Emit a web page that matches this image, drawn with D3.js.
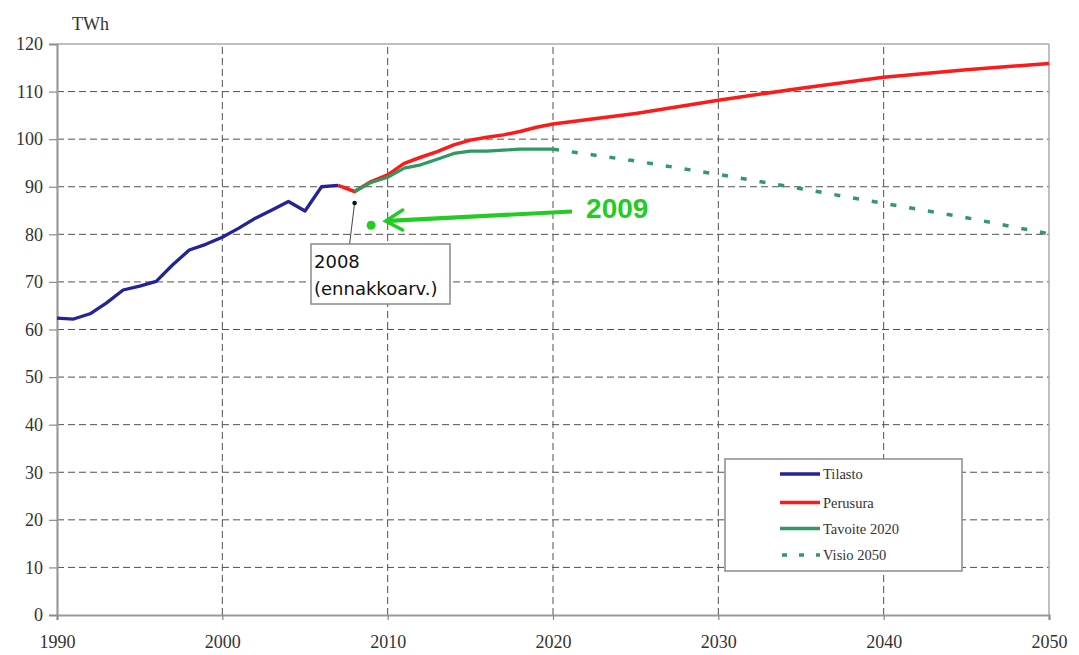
<!DOCTYPE html>
<html>
<head>
<meta charset="utf-8">
<script src="https://cdn.jsdelivr.net/npm/d3@7"></script>
<style>
  html, body { margin: 0; padding: 0; background: #fff; }
  svg { display: block; }
</style>
</head>
<body>
<svg id="chart" width="1079" height="655"></svg>
<script>
// ---- Data ----
const yTicks = [0, 10, 20, 30, 40, 50, 60, 70, 80, 90, 100, 110, 120];
const xTicks = [1990, 2000, 2010, 2020, 2030, 2040, 2050];

const tilastoYears  = [1990,1991,1992,1993,1994,1995,1996,1997,1998,1999,2000,2001,2002,2003,2004,2005,2006,2007];
const tilastoValues = [62.4,62.2,63.3,65.6,68.3,69.1,70.1,73.6,76.7,77.9,79.4,81.3,83.4,85.1,86.9,84.9,90.0,90.3];

const perusuraYears  = [2007,2008,2009,2010,2011,2012,2013,2014,2015,2016,2017,2018,2019,2020,2025,2030,2035,2040,2045,2050];
const perusuraValues = [90.3,89.0,91.1,92.5,94.9,96.2,97.4,98.8,99.8,100.4,100.9,101.6,102.5,103.2,105.4,108.2,110.7,113.0,114.6,115.9];

const tavoiteYears  = [2008,2009,2010,2011,2012,2013,2014,2015,2016,2017,2018,2019,2020];
const tavoiteValues = [89.0,90.9,92.0,93.9,94.6,95.8,97.0,97.5,97.5,97.7,97.9,97.9,97.9];

const visioYears  = [2020,2025,2030,2035,2040,2045,2050];
const visioValues = [97.9,95.4,92.6,89.6,86.5,83.5,80.1];

const point2009 = { year: 2009, value: 81.9 };
const seriesNames = ["Tilasto", "Perusura", "Tavoite 2020", "Visio 2050"];

// ---- Layout ----
const svg = d3.select("#chart");
const x = d3.scaleLinear().domain([1990, 2050]).range([57, 1049]);
const y = d3.scaleLinear().domain([0, 120]).range([615, 44]);

const serif = "'Liberation Serif', 'Times New Roman', serif";

// Grid lines (dashed)
const grid = svg.append("g");
grid.selectAll("line.h").data(yTicks.filter(v => v > 0 && v < 120)).enter().append("line")
  .attr("x1", x(1990)).attr("x2", x(2050))
  .attr("y1", d => y(d)).attr("y2", d => y(d))
  .attr("stroke", "#505050").attr("stroke-width", 1).attr("stroke-dasharray", "7,4");
grid.selectAll("line.v").data(xTicks.filter(v => v > 1990 && v < 2050)).enter().append("line")
  .attr("x1", d => x(d)).attr("x2", d => x(d))
  .attr("y1", y(0)).attr("y2", y(120))
  .attr("stroke", "#505050").attr("stroke-width", 1).attr("stroke-dasharray", "7,4");

// Top and right border
svg.append("line").attr("x1", x(1990)).attr("x2", x(2050)).attr("y1", y(120)).attr("y2", y(120))
  .attr("stroke", "#aaaaaa").attr("stroke-width", 1.5);
svg.append("line").attr("x1", x(2050)).attr("x2", x(2050)).attr("y1", y(0)).attr("y2", y(120))
  .attr("stroke", "#aaaaaa").attr("stroke-width", 1.5);

// Axes
const yAxis = d3.axisLeft(y).tickValues(yTicks).tickSize(8).tickPadding(6).tickFormat(d3.format("d"));
const xAxis = d3.axisBottom(x).tickValues(xTicks).tickSize(5).tickPadding(15).tickFormat(d3.format("d"));

const gy = svg.append("g").attr("transform", `translate(${x(1990)},0)`).call(yAxis);
const gx = svg.append("g").attr("transform", `translate(0,${y(0)})`).call(xAxis);
[gx, gy].forEach(g => {
  g.select(".domain").attr("stroke", "#9a9a9a").attr("stroke-width", 2.2);
  g.selectAll(".tick line").attr("stroke", "#8a8a8a").attr("stroke-width", 1.2);
  g.selectAll(".tick text").attr("fill", "#333").style("font-family", serif).style("font-size", "18px");
});

// Unit label
svg.append("text").attr("x", 72).attr("y", 30).text("TWh")
  .style("font-family", serif).style("font-size", "18px").attr("fill", "#333");

// Lines
const line = d3.line().x(d => x(d[0])).y(d => y(d[1]));
const zip = (a, b) => a.map((v, i) => [v, b[i]]);

svg.append("path").datum(zip(visioYears, visioValues)).attr("d", line)
  .attr("fill", "none").attr("stroke", "#339966").attr("stroke-width", 3.5)
  .attr("stroke-dasharray", "6,13");
svg.append("path").datum(zip(perusuraYears, perusuraValues)).attr("d", line)
  .attr("fill", "none").attr("stroke", "#ff1a1a").attr("stroke-width", 3.5).attr("stroke-linejoin", "round");
svg.append("path").datum(zip(tavoiteYears, tavoiteValues)).attr("d", line)
  .attr("fill", "none").attr("stroke", "#2e9960").attr("stroke-width", 3.2).attr("stroke-linejoin", "round");
svg.append("path").datum(zip(tilastoYears, tilastoValues)).attr("d", line)
  .attr("fill", "none").attr("stroke", "#23239a").attr("stroke-width", 3.3).attr("stroke-linejoin", "round");

// 2009 point, arrow and label
const bright = "#22cc22";
svg.append("circle").attr("cx", x(point2009.year)).attr("cy", y(point2009.value)).attr("r", 4.5).attr("fill", bright);
const tip = [x(2009.88), y(82.8)];
const tail = [x(2021.15), y(84.8)];
svg.append("line").attr("x1", tail[0]).attr("y1", tail[1]).attr("x2", tip[0] + 3).attr("y2", tip[1] - 0.2)
  .attr("stroke", bright).attr("stroke-width", 4.2);
svg.append("path")
  .attr("d", `M${tip[0] + 17},${tip[1] - 11} L${tip[0]},${tip[1]} L${tip[0] + 17},${tip[1] + 9}`)
  .attr("fill", "none").attr("stroke", bright).attr("stroke-width", 3.5).attr("stroke-linecap", "round");
svg.append("text").attr("x", x(2022)).attr("y", y(83.5)).text("2009")
  .style("font-family", "'Liberation Sans', Arial, sans-serif").style("font-weight", "bold")
  .style("font-size", "28px").attr("fill", bright);

// 2008 annotation
const dotX = x(2008), dotY = y(86.6);
svg.append("line").attr("x1", dotX).attr("y1", dotY).attr("x2", dotX - 5).attr("y2", 244)
  .attr("stroke", "#444").attr("stroke-width", 1);
svg.append("circle").attr("cx", dotX).attr("cy", dotY).attr("r", 2.3).attr("fill", "#111");
svg.append("rect").attr("x", 311).attr("y", 244).attr("width", 139).attr("height", 60)
  .attr("fill", "#fff").attr("stroke", "#8a8a8a").attr("stroke-width", 1.5);
const annot = svg.append("text").style("font-family", "'DejaVu Sans', Verdana, sans-serif")
  .style("font-size", "18px").attr("fill", "#111");
annot.append("tspan").attr("x", 314).attr("y", 268).text("2008");
annot.append("tspan").attr("x", 314).attr("y", 295).text("(ennakkoarv.)");

// Legend
svg.append("rect").attr("x", 725).attr("y", 459).attr("width", 237).attr("height", 112)
  .attr("fill", "#fff").attr("stroke", "#8a8a8a").attr("stroke-width", 1.5);
const legendRows = [474, 502.5, 528.5, 555];
const legendStyles = [
  { color: "#23239a", dash: null, w: 3.5 },
  { color: "#ff1a1a", dash: null, w: 3.5 },
  { color: "#2e9960", dash: null, w: 3.5 },
  { color: "#339966", dash: "5,12", w: 3.5 }
];
seriesNames.forEach((name, i) => {
  const ly = legendRows[i];
  const l = svg.append("line").attr("x1", 780).attr("x2", 820).attr("y1", ly).attr("y2", ly)
    .attr("stroke", legendStyles[i].color).attr("stroke-width", legendStyles[i].w);
  if (legendStyles[i].dash) l.attr("stroke-dasharray", legendStyles[i].dash).attr("x1", 782);
  svg.append("text").attr("x", 823).attr("y", ly + 5).text(name)
    .style("font-family", serif).style("font-size", "14.5px").attr("fill", "#333");
});
</script>
</body>
</html>
